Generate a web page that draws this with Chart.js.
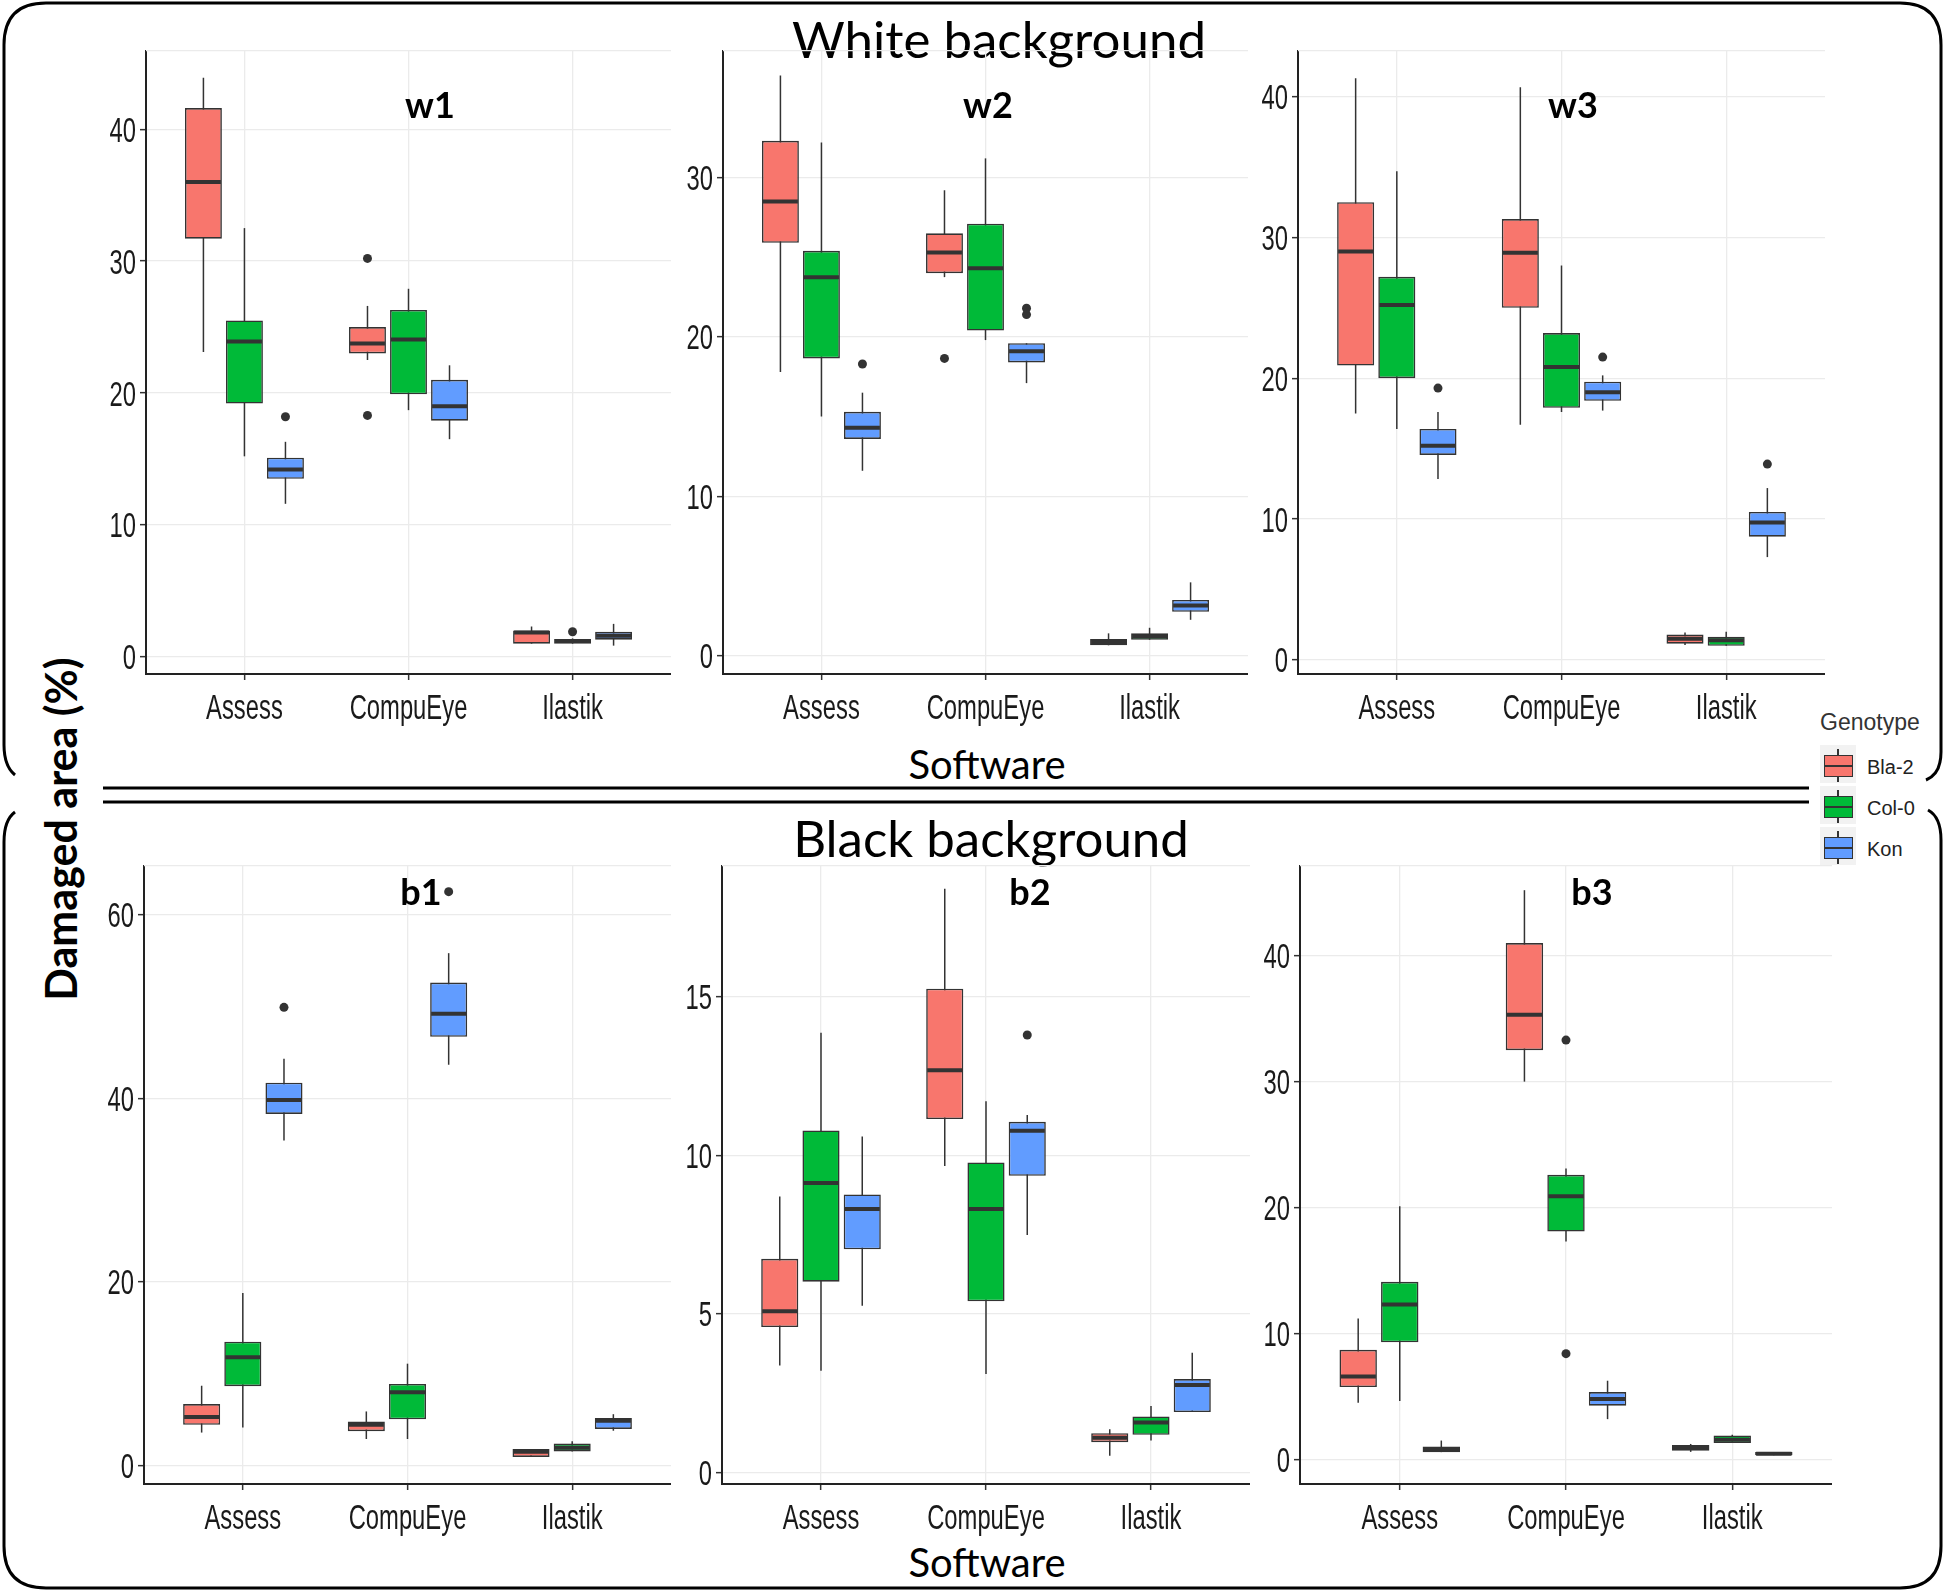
<!DOCTYPE html>
<html>
<head>
<meta charset="utf-8">
<script src="https://cdn.jsdelivr.net/npm/chart.js@4.4.1/dist/chart.umd.min.js"></script>
<style>
html, body { margin: 0; padding: 0; background: #fff; }
#page { position: relative; width: 1946px; height: 1591px; overflow: hidden; font-family: Lato, sans-serif; }
.panel { position: absolute; }
.txt { position: absolute; transform: translate(-50%, -50%); white-space: nowrap; line-height: 1; color: #000; }
.ltxt { position: absolute; transform: translate(0, -50%); white-space: nowrap; line-height: 1; font-family: 'Liberation Sans', Arial, sans-serif; color: #222; }
.blk { position: absolute; box-sizing: border-box; }
</style>
</head>
<body>
<div id="page">
  <svg width="1946" height="1591" style="position:absolute;left:0;top:0">
    <g fill="none" stroke="#000" stroke-width="3">
      <path d="M15 775 Q4 766 4 745 L4 45 Q4 3 46 3 L1900 3 Q1941 3 1941 45 L1941 752 Q1941 774 1926 780"/>
      <path d="M15 812 Q4 820 4 842 L4 1546 Q4 1588 46 1588 L1900 1588 Q1941 1588 1941 1546 L1941 840 Q1941 817 1928 810"/>
      <line x1="103" y1="788" x2="1809" y2="788"/>
      <line x1="103" y1="802" x2="1809" y2="802"/>
    </g>
  </svg>
  <div class="txt" style="left:999px;top:38px;font-size:51px">White background</div>
  <div class="txt" style="left:991px;top:837px;font-size:51px">Black background</div>
  <div class="txt" style="left:987px;top:764px;font-size:40px">Software</div>
  <div class="txt" style="left:987px;top:1562px;font-size:40px">Software</div>
  <div class="txt" style="left:60px;top:829px;font-size:43px;font-weight:bold;transform:translate(-50%,-50%) rotate(-90deg)">Damaged area (%)</div>
  <div class="ltxt" style="left:1820px;top:722px;font-size:23px;color:#333">Genotype</div>
</div>
<script>
const software = ['Assess', 'CompuEye', 'Ilastik'];
const genotypes = ['Bla-2', 'Col-0', 'Kon'];
const colors = ['#F8766D', '#00BA38', '#619CFF'];

// [lower whisker, Q1, median, Q3, upper whisker] for Assess, CompuEye, Ilastik
const w1Bla2 = [[23.1, 31.7, 36.0, 41.6, 43.9], [22.5, 23.0, 23.75, 25.0, 26.6], [1.0, 1.0, 1.85, 2.0, 2.3]];
const w1Col0 = [[15.2, 19.2, 23.9, 25.5, 32.5], [18.7, 19.9, 24.05, 26.3, 27.9], [1.0, 1.0, 1.2, 1.35, 1.4]];
const w1Kon = [[11.6, 13.5, 14.2, 15.1, 16.3], [16.5, 17.9, 19.0, 21.0, 22.1], [0.85, 1.3, 1.6, 1.9, 2.5]];
const w1Outliers = [[[], [30.2, 18.3], []], [[], [], [1.9]], [[18.2], [], []]];

const w2Bla2 = [[17.8, 25.9, 28.5, 32.3, 36.4], [23.75, 24.0, 25.3, 26.5, 29.2], [0.65, 0.65, 0.85, 1.05, 1.4]];
const w2Col0 = [[15.0, 18.65, 23.75, 25.4, 32.2], [19.8, 20.4, 24.3, 27.1, 31.2], [1.0, 1.0, 1.2, 1.4, 1.75]];
const w2Kon = [[11.6, 13.6, 14.3, 15.3, 16.5], [17.1, 18.4, 19.1, 19.6, 19.6], [2.25, 2.75, 3.15, 3.5, 4.6]];
const w2Outliers = [[[], [18.65], []], [[], [], []], [[18.3], [21.4, 21.8], []]];

const w3Bla2 = [[17.5, 20.9, 29.0, 32.5, 41.3], [16.7, 25.0, 28.9, 31.3, 40.65], [1.05, 1.15, 1.5, 1.8, 1.95]];
const w3Col0 = [[16.4, 20.0, 25.2, 27.2, 34.7], [17.6, 17.9, 20.8, 23.2, 28.0], [1.0, 1.0, 1.4, 1.65, 2.0]];
const w3Kon = [[12.85, 14.55, 15.2, 16.4, 17.6], [17.7, 18.4, 19.0, 19.75, 20.2], [7.3, 8.75, 9.75, 10.5, 12.2]];
const w3Outliers = [[[], [], []], [[], [], []], [[19.3], [21.5], [13.9]]];

const b1Bla2 = [[3.6, 4.45, 5.3, 6.7, 8.7], [2.9, 3.75, 4.45, 4.8, 5.9], [0.95, 0.95, 1.5, 1.8, 1.8]];
const b1Col0 = [[4.15, 8.65, 11.8, 13.5, 18.8], [2.9, 5.05, 8.0, 8.9, 11.1], [1.55, 1.55, 1.95, 2.4, 2.65]];
const b1Kon = [[35.4, 38.3, 39.8, 41.7, 44.3], [43.65, 46.7, 49.2, 52.6, 55.8], [3.8, 4.0, 4.9, 5.2, 5.6]];
const b1Outliers = [[[], [], []], [[], [], []], [[49.9], [62.5], []]];

const b2Bla2 = [[3.37, 4.58, 5.08, 6.73, 8.7], [9.66, 11.14, 12.68, 15.25, 18.4], [0.52, 0.95, 1.09, 1.23, 1.36]];
const b2Col0 = [[3.2, 6.01, 9.12, 10.78, 13.86], [3.1, 5.39, 8.3, 9.77, 11.7], [1.0, 1.18, 1.57, 1.76, 2.09]];
const b2Kon = [[5.25, 7.03, 8.3, 8.76, 10.59], [7.48, 9.35, 10.77, 11.05, 11.27], [1.9, 1.9, 2.75, 2.94, 3.77]];
const b2Outliers = [[[], [], []], [[], [], []], [[], [13.79], []]];

const b3Bla2 = [[4.5, 5.75, 6.58, 8.7, 11.2], [30.0, 32.5, 35.3, 41.0, 45.2], [0.6, 0.7, 0.9, 1.15, 1.23]];
const b3Col0 = [[4.65, 9.3, 12.3, 14.1, 20.1], [17.3, 18.1, 20.9, 22.6, 23.1], [1.3, 1.3, 1.56, 1.9, 1.97]];
const b3Kon = [[0.58, 0.58, 0.82, 1.03, 1.5], [3.2, 4.27, 4.8, 5.35, 6.25], [0.33, 0.33, 0.45, 0.6, 0.6]];
const b3Outliers = [[[], [], []], [[], [33.3, 8.4], []], [[], [], []]];

const AXIS_W = 80;
const XAXIS_H = 60;

const panels = [
    {name: 'w1', stats: [w1Bla2, w1Col0, w1Kon], outliers: w1Outliers, yMin: -1.3, yMax: 46.0, step: 10,
     left: 146, right: 671, top: 50, bottom: 674, lx: 430, ly: 104},
    {name: 'w2', stats: [w2Bla2, w2Col0, w2Kon], outliers: w2Outliers, yMin: -1.15, yMax: 38.0, step: 10,
     left: 723, right: 1248, top: 50, bottom: 674, lx: 988, ly: 104},
    {name: 'w3', stats: [w3Bla2, w3Col0, w3Kon], outliers: w3Outliers, yMin: -1.0, yMax: 43.3, step: 10,
     left: 1298, right: 1825, top: 50, bottom: 674, lx: 1573, ly: 104},
    {name: 'b1', stats: [b1Bla2, b1Col0, b1Kon], outliers: b1Outliers, yMin: -2.0, yMax: 65.4, step: 20,
     left: 144, right: 671, top: 865, bottom: 1484, lx: 421, ly: 891},
    {name: 'b2', stats: [b2Bla2, b2Col0, b2Kon], outliers: b2Outliers, yMin: -0.37, yMax: 19.15, step: 5,
     left: 722, right: 1250, top: 865, bottom: 1484, lx: 1030, ly: 891},
    {name: 'b3', stats: [b3Bla2, b3Col0, b3Kon], outliers: b3Outliers, yMin: -1.95, yMax: 47.2, step: 10,
     left: 1300, right: 1832, top: 865, bottom: 1484, lx: 1592, ly: 891},
];

// whiskers behind the boxes, medians and outlier dots on top
const boxParts = {
    id: 'boxParts',
    beforeDatasetsDraw(chart) {
        const {ctx, chartArea: area, scales: {y}} = chart;
        ctx.save();
        ctx.strokeStyle = '#ebebeb';
        ctx.lineWidth = 1.3;
        ctx.beginPath();
        ctx.moveTo(area.left, area.top + 0.5);
        ctx.lineTo(area.right, area.top + 0.5);
        ctx.stroke();
        ctx.strokeStyle = '#333';
        ctx.lineWidth = 1.5;
        chart.data.datasets.forEach((ds, d) => {
            chart.getDatasetMeta(d).data.forEach((bar, i) => {
                const s = ds.stats[i];
                ctx.beginPath();
                ctx.moveTo(bar.x, y.getPixelForValue(s[0]));
                ctx.lineTo(bar.x, y.getPixelForValue(s[4]));
                ctx.stroke();
            });
        });
        ctx.restore();
    },
    afterDatasetsDraw(chart) {
        const {ctx, scales: {y}} = chart;
        ctx.save();
        chart.data.datasets.forEach((ds, d) => {
            chart.getDatasetMeta(d).data.forEach((bar, i) => {
                const s = ds.stats[i];
                const my = y.getPixelForValue(s[2]);
                ctx.strokeStyle = '#333';
                ctx.lineWidth = 4;
                ctx.beginPath();
                ctx.moveTo(bar.x - bar.width / 2 + 1, my);
                ctx.lineTo(bar.x + bar.width / 2 - 1, my);
                ctx.stroke();
                ctx.fillStyle = '#333';
                ds.outliers[i].forEach(v => {
                    ctx.beginPath();
                    ctx.arc(bar.x, y.getPixelForValue(v), 4.5, 0, Math.PI * 2);
                    ctx.fill();
                });
            });
        });
        ctx.restore();
    },
};

// the original tick labels are a squeezed sans; draw them narrow at the scale's tick positions
function squeezed(ctx, text, px, py, align) {
    ctx.save();
    ctx.translate(px, py);
    ctx.scale(0.68, 1);
    ctx.textAlign = align;
    ctx.fillText(text, 0, 0);
    ctx.restore();
}

const tickLabels = {
    id: 'tickLabels',
    afterDraw(chart) {
        const {ctx, scales: {x, y}} = chart;
        ctx.save();
        ctx.fillStyle = '#1a1a1a';
        ctx.font = '35px "Liberation Sans", Arial, sans-serif';
        ctx.textBaseline = 'alphabetic';
        x.ticks.forEach((t, i) => squeezed(ctx, software[Math.round(t.value) - 1], x.getPixelForTick(i), x.top + 44.5, 'center'));
        y.ticks.forEach((t, i) => squeezed(ctx, String(t.value), y.right - 10, y.getPixelForTick(i) + 12.5, 'right'));
        ctx.restore();
    },
};

const page = document.getElementById('page');

panels.forEach(p => {
    const wrap = document.createElement('div');
    wrap.className = 'panel';
    wrap.style.left = (p.left - AXIS_W) + 'px';
    wrap.style.top = p.top + 'px';
    wrap.style.width = (p.right - p.left + AXIS_W) + 'px';
    wrap.style.height = (p.bottom - p.top + XAXIS_H) + 'px';
    const canvas = document.createElement('canvas');
    wrap.appendChild(canvas);
    page.appendChild(wrap);

    const label = document.createElement('div');
    label.className = 'txt';
    label.style.left = p.lx + 'px';
    label.style.top = p.ly + 'px';
    label.style.fontSize = '36px';
    label.style.fontWeight = 'bold';
    label.textContent = p.name;
    page.appendChild(label);

    new Chart(canvas, {
        type: 'bar',
        data: {
            datasets: genotypes.map((g, d) => ({
                label: g,
                data: p.stats[d].map((s, i) => ({x: i + 1, y: [s[1], s[3]]})),
                stats: p.stats[d],
                outliers: p.outliers[d],
                backgroundColor: colors[d],
                borderColor: '#333',
                borderWidth: 1.6,
                borderSkipped: false,
                categoryPercentage: 0.75,
                barPercentage: 0.9,
            })),
        },
        options: {
            animation: false,
            responsive: true,
            maintainAspectRatio: false,
            events: [],
            plugins: {
                legend: {display: false},
                tooltip: {enabled: false},
            },
            scales: {
                x: {
                    type: 'linear',
                    min: 0.4,
                    max: 3.6,
                    offset: false,
                    grid: {offset: false, color: '#ebebeb', lineWidth: 1.3, tickColor: '#333', tickLength: 6, tickWidth: 1.5},
                    border: {color: '#222', width: 2},
                    ticks: {
                        stepSize: 1,
                        includeBounds: false,
                        autoSkip: false,
                        maxRotation: 0,
                        color: 'rgba(0,0,0,0)',
                        callback: v => software[Math.round(v) - 1] || '',
                    },
                    afterBuildTicks: s => { s.ticks = s.ticks.filter(t => Number.isInteger(t.value) && t.value >= 1 && t.value <= 3); },
                    afterFit: s => { s.height = XAXIS_H; s.paddingLeft = 0; s.paddingRight = 0; },
                },
                y: {
                    min: p.yMin,
                    max: p.yMax,
                    grid: {color: '#ebebeb', lineWidth: 1.3, tickColor: '#333', tickLength: 6, tickWidth: 1.5},
                    border: {color: '#222', width: 2},
                    ticks: {
                        stepSize: p.step,
                        includeBounds: false,
                        color: 'rgba(0,0,0,0)',
                    },
                    afterBuildTicks: s => { s.ticks = s.ticks.filter(t => t.value >= 0 && t.value % p.step === 0); },
                    afterFit: s => { s.width = AXIS_W; s.paddingTop = 0; s.paddingBottom = 0; },
                },
            },
        },
        plugins: [boxParts, tickLabels],
    });
});

// legend keys
genotypes.forEach((g, i) => {
    const top = 745 + 41 * i;
    const parts = [
        {l: 1820, t: top, w: 36, h: 38, bg: '#f2f2f2'},
        {l: 1837.2, t: top + 4, w: 1.6, h: 33, bg: '#333'},
        {l: 1824, t: top + 10, w: 29, h: 22, bg: colors[i], border: '1.6px solid #333'},
        {l: 1824, t: top + 20, w: 29, h: 2.2, bg: '#333'},
    ];
    parts.forEach(b => {
        const el = document.createElement('div');
        el.className = 'blk';
        el.style.left = b.l + 'px';
        el.style.top = b.t + 'px';
        el.style.width = b.w + 'px';
        el.style.height = b.h + 'px';
        el.style.background = b.bg;
        if (b.border) el.style.border = b.border;
        page.appendChild(el);
    });
    const txt = document.createElement('div');
    txt.className = 'ltxt';
    txt.style.left = '1867px';
    txt.style.top = (top + 22) + 'px';
    txt.style.fontSize = '20px';
    txt.textContent = g;
    page.appendChild(txt);
});
</script>
</body>
</html>
